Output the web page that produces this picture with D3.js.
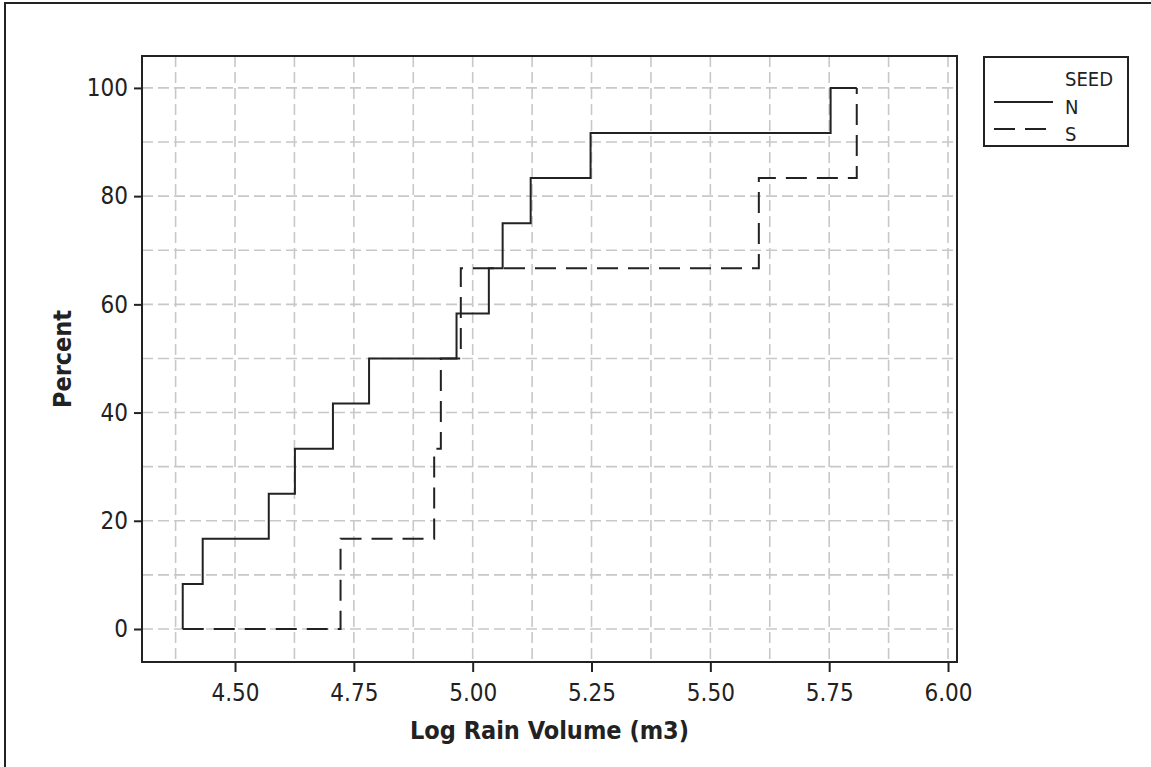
<!DOCTYPE html>
<html>
<head>
<meta charset="utf-8">
<script src="https://cdn.jsdelivr.net/npm/d3@7/dist/d3.min.js"></script>
<style>
  html, body { margin: 0; padding: 0; background: #fff; }
  svg { display: block; }
  text { font-family: "DejaVu Sans Condensed", "DejaVu Sans", sans-serif; font-stretch: condensed; fill: #222; }
</style>
</head>
<body>
<svg id="chart" width="1151" height="767"></svg>
<script>
// Empirical CDF of log rain volume, by seeding group
const seedGroups = ["N", "S"];

// Group N (unseeded) – sorted log volumes and cumulative percent
const nVolume  = [4.390, 4.432, 4.571, 4.626, 4.706, 4.782, 4.966, 5.034, 5.063, 5.122, 5.248, 5.753];
const nPercent = [8.33, 16.67, 25.0, 33.33, 41.67, 50.0, 58.33, 66.67, 75.0, 83.33, 91.67, 100];

// Group S (seeded)
const sVolume  = [4.722, 4.919, 4.933, 4.975, 5.602, 5.808];
const sPercent = [16.67, 33.33, 50.0, 66.67, 83.33, 100];

const xTicks = [4.50, 4.75, 5.00, 5.25, 5.50, 5.75, 6.00];
const xGrid  = [4.375, 4.50, 4.625, 4.75, 4.875, 5.00, 5.125, 5.25, 5.375, 5.50, 5.625, 5.75, 5.875, 6.00];
const yTicks = [0, 20, 40, 60, 80, 100];
const yGrid  = [0, 10, 20, 30, 40, 50, 60, 70, 80, 90, 100];

const svg = d3.select("#chart");
const ink = "#222";

// outer frame
svg.append("rect")
  .attr("x", 5).attr("y", 3).attr("width", 1200).attr("height", 800)
  .attr("fill", "none").attr("stroke", ink).attr("stroke-width", 2);

const plot = { left: 142, right: 957, top: 56, bottom: 662 };

const x = d3.scaleLinear().domain([4.3043, 6.0189]).range([plot.left, plot.right]);
const y = d3.scaleLinear().domain([-6.1, 105.9]).range([plot.bottom, plot.top]);

// grid
const grid = svg.append("g").attr("stroke", "#c8c8c8").attr("stroke-width", 1.6)
  .attr("stroke-dasharray", "11,5").attr("fill", "none");
grid.selectAll("line.v").data(xGrid).join("line").attr("class", "v")
  .attr("x1", d => x(d)).attr("x2", d => x(d))
  .attr("y1", plot.top).attr("y2", plot.bottom);
grid.selectAll("line.h").data(yGrid).join("line").attr("class", "h")
  .attr("x1", plot.left).attr("x2", plot.right)
  .attr("y1", d => y(d)).attr("y2", d => y(d));

// ECDF step paths, both starting at the pooled minimum and ending at the pooled maximum
const allVolume = nVolume.concat(sVolume);
const vMin = d3.min(allVolume), vMax = d3.max(allVolume);

function ecdfPoints(vol, pct) {
  const pts = [[vMin, 0]];
  vol.forEach((v, i) => pts.push([v, pct[i]]));
  pts.push([vMax, pct[pct.length - 1]]);
  return pts;
}

const step = d3.line().x(d => x(d[0])).y(d => y(d[1])).curve(d3.curveStepAfter);

const seriesStyle = { N: null, S: "21,10" };

svg.append("path")
  .datum(ecdfPoints(nVolume, nPercent))
  .attr("d", step).attr("fill", "none").attr("stroke", ink).attr("stroke-width", 2);

svg.append("path")
  .datum(ecdfPoints(sVolume, sPercent))
  .attr("d", step).attr("fill", "none").attr("stroke", ink).attr("stroke-width", 2)
  .attr("stroke-dasharray", seriesStyle.S);

// plot border
svg.append("rect")
  .attr("x", plot.left).attr("y", plot.top)
  .attr("width", plot.right - plot.left).attr("height", plot.bottom - plot.top)
  .attr("fill", "none").attr("stroke", ink).attr("stroke-width", 2);

// axes
const xAxis = d3.axisBottom(x).tickValues(xTicks).tickFormat(d3.format(".2f"))
  .tickSize(10).tickPadding(12);
const gx = svg.append("g").attr("transform", `translate(0,${plot.bottom})`).call(xAxis);
gx.select(".domain").remove();
gx.selectAll(".tick line").attr("stroke", ink).attr("stroke-width", 2);
gx.selectAll(".tick text").attr("font-size", 24).style("fill", ink);

const yAxis = d3.axisLeft(y).tickValues(yTicks).tickSize(8).tickPadding(6);
const gy = svg.append("g").attr("transform", `translate(${plot.left},0)`).call(yAxis);
gy.select(".domain").remove();
gy.selectAll(".tick line").attr("stroke", ink).attr("stroke-width", 2);
gy.selectAll(".tick text").attr("font-size", 24).style("fill", ink);

// axis titles
svg.append("text")
  .attr("x", (plot.left + plot.right) / 2).attr("y", 739)
  .attr("text-anchor", "middle").attr("font-size", 25).attr("font-weight", "bold")
  .text("Log Rain Volume (m3)");

svg.append("text")
  .attr("transform", `translate(71,${(plot.top + plot.bottom) / 2}) rotate(-90)`)
  .attr("text-anchor", "middle").attr("font-size", 25).attr("font-weight", "bold")
  .text("Percent");

// legend
const lg = svg.append("g");
lg.append("rect").attr("x", 984).attr("y", 57).attr("width", 144).attr("height", 89)
  .attr("fill", "#fff").attr("stroke", ink).attr("stroke-width", 2);
lg.append("text").attr("x", 1065).attr("y", 86).attr("font-size", 20).text("SEED");
const legendRows = [{ key: "N", ly: 102, ty: 114 }, { key: "S", ly: 129, ty: 141 }];
legendRows.forEach(r => {
  lg.append("line").attr("x1", 994).attr("x2", 1053).attr("y1", r.ly).attr("y2", r.ly)
    .attr("stroke", ink).attr("stroke-width", 2)
    .attr("stroke-dasharray", seriesStyle[r.key]);
  lg.append("text").attr("x", 1065).attr("y", r.ty).attr("font-size", 20).text(r.key);
});
</script>
</body>
</html>
